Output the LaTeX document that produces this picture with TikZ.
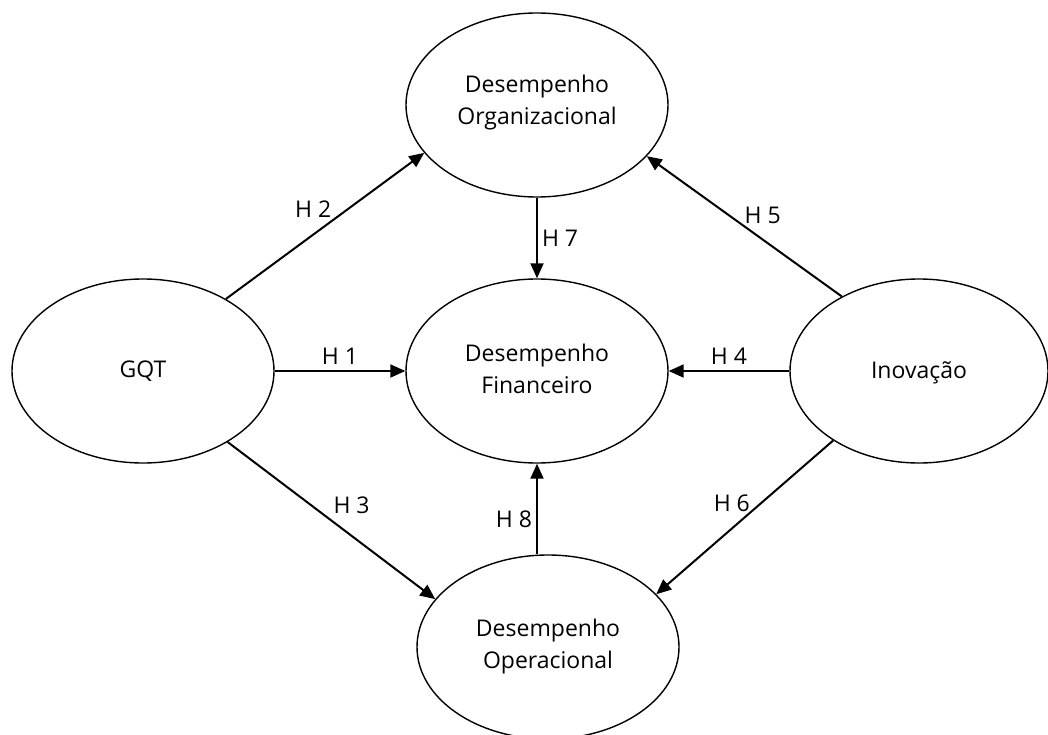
\documentclass[tikz,border=0pt]{standalone}
\usepackage{fontspec}
\setmainfont{Open Sans}
\usetikzlibrary{shapes.geometric,arrows.meta}
\begin{document}
\begin{tikzpicture}[x=1pt,y=-1pt,
  construct/.style={ellipse,draw,line width=1.4pt,minimum width=262pt,minimum height=184pt,inner sep=0pt},
  ctext/.style={align=center,font=\fontsize{23}{32}\selectfont,inner sep=0pt},
  hyp/.style={line width=2pt,-{Triangle[length=15pt,width=13pt]}},
  hlab/.style={font=\fontsize{23}{26}\selectfont,inner sep=0pt}]
\useasboundingbox (0,0) rectangle (1048,735);

% constructs
\node[construct] (org) at (537,105) {};
\node[construct] (fin) at (537,371) {};
\node[construct] (gqt) at (143,371) {};
\node[construct,minimum width=258pt] (inov) at (919,371) {};
\node[construct] (op) at (548,647) {};

% construct names
\node[ctext] (org-t) at ([yshift=2pt]org.center) {Desempenho\\Organizacional};
\node[ctext] (fin-t) at ([yshift=2pt]fin.center) {Desempenho\\Financeiro};
\node[ctext] (gqt-t) at (gqt.center) {GQT};
\node[ctext] (inov-t) at ([yshift=-2pt]inov.center) {Inovação};
\node[ctext] (op-t) at (op.center) {Desempenho\\Operacional};

% hypotheses
\draw[hyp] (gqt.east) -- (fin.west) node[midway,hlab,above=6pt] (l1) {H 1};
\draw[hyp] (gqt.41) -- (org.203) node[pos=0.44,hlab,yshift=26pt] (l2) {H 2};
\draw[hyp] (gqt.320) -- (op.157) node[pos=0.597,hlab,yshift=31pt] (l3) {H 3};
\draw[hyp] (inov.west) -- (fin.east) node[midway,hlab,above=6pt] (l4) {H 4};
\draw[hyp] (inov.136) -- (org.335) node[pos=0.406,hlab,yshift=24pt] (l5) {H 5};
\draw[hyp] (inov.219.5) -- (op.26) node[pos=0.573,hlab,yshift=25pt] (l6) {H 6};
\draw[hyp] (org.south) -- (fin.north) node[midway,hlab,right=4pt] (l7) {H 7};
\draw[hyp] (fin.south |- op.north) -- (fin.south) node[pos=0.39,hlab,left=4pt] (l8) {H 8};
\end{tikzpicture}
\end{document}
